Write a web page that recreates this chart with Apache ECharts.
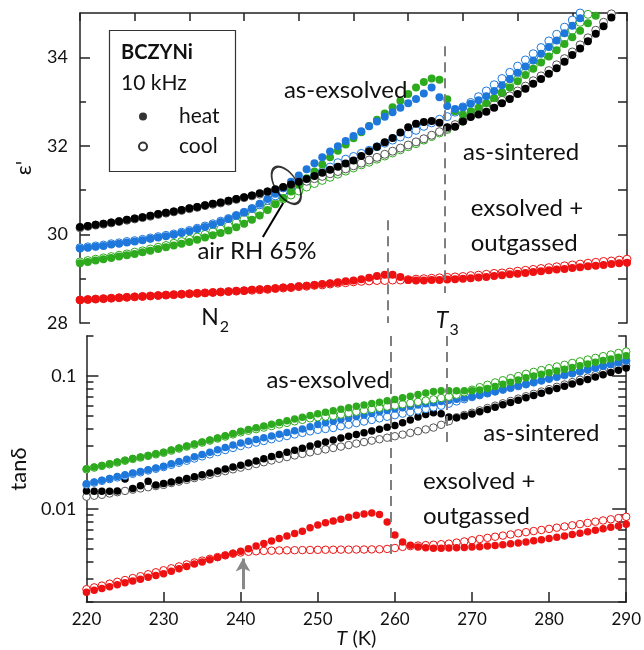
<!DOCTYPE html>
<html><head><meta charset="utf-8">
<script src="https://cdn.jsdelivr.net/npm/echarts@6/dist/echarts.min.js"></script>
<style>html,body{margin:0;padding:0;background:#fff}#c{width:644px;height:650px}</style>
</head><body><div id="c"></div>
<script>
const temps = [
 220,221,222,223,224,225,226,227,228,229,
 230,231,232,233,234,235,236,237,238,239,
 240,241,242,243,244,245,246,247,248,249,
 250,251,252,253,254,255,256,257,258,259,
 260,261,262,263,264,265,266,267,268,269,
 270,271,272,273,274,275,276,277,278,279,
 280,281,282,283,284,285,286,287,288,289,
 290];

// epsilon' (top panel)
const epsBlackHeat = [
 30.17,30.19,30.22,30.24,30.27,30.30,30.33,30.36,30.39,30.42,
 30.46,30.49,30.52,30.55,30.59,30.62,30.66,30.69,30.72,30.76,
 30.80,30.84,30.88,30.93,30.97,31.02,31.07,31.13,31.19,31.25,
 31.32,31.39,31.46,31.53,31.60,31.67,31.77,31.88,31.98,32.08,
 32.18,32.30,32.42,32.50,32.54,32.56,32.52,32.42,32.43,32.55,
 32.65,32.71,32.77,32.86,32.96,33.06,33.17,33.29,33.40,33.51,
 33.63,33.75,33.90,34.05,34.20,34.36,34.53,34.70,34.90,35.10,
 35.30];
const epsBlackCool = [
 30.15,30.18,30.21,30.23,30.26,30.29,30.32,30.35,30.38,30.41,
 30.45,30.48,30.51,30.54,30.58,30.61,30.65,30.68,30.71,30.75,
 30.79,30.83,30.87,30.91,30.96,31.00,31.05,31.10,31.15,31.20,
 31.26,31.31,31.37,31.42,31.48,31.55,31.61,31.68,31.74,31.81,
 31.88,31.95,32.02,32.09,32.16,32.24,32.32,32.40,32.48,32.57,
 32.67,32.76,32.84,32.93,33.03,33.13,33.24,33.35,33.47,33.58,
 33.70,33.83,33.97,34.12,34.28,34.44,34.61,34.79,34.98,35.18,
 35.40];
const epsBlueHeat = [
 29.68,29.70,29.72,29.74,29.77,29.79,29.82,29.84,29.87,29.90,
 29.93,29.96,29.99,30.03,30.07,30.12,30.17,30.22,30.28,30.35,
 30.42,30.50,30.59,30.69,30.80,30.92,31.05,31.19,31.33,31.47,
 31.61,31.74,31.87,31.99,32.11,32.22,32.33,32.44,32.55,32.66,
 32.76,32.86,32.96,33.06,33.18,33.32,33.10,32.90,32.83,32.87,
 32.95,33.03,33.12,33.24,33.37,33.51,33.65,33.79,33.93,34.08,
 34.23,34.38,34.54,34.71,34.88,35.05,35.22,35.40,35.60,35.80,
 36.00];
const epsBlueCool = [
 29.70,29.72,29.74,29.76,29.79,29.81,29.84,29.86,29.89,29.92,
 29.95,29.98,30.01,30.05,30.09,30.14,30.19,30.24,30.30,30.36,
 30.43,30.50,30.58,30.67,30.77,30.87,30.97,31.06,31.15,31.24,
 31.33,31.42,31.52,31.62,31.70,31.76,31.83,31.90,31.98,32.06,
 32.13,32.20,32.27,32.35,32.44,32.52,32.60,32.66,32.76,32.88,
 32.98,33.11,33.24,33.38,33.52,33.66,33.80,33.94,34.08,34.22,
 34.37,34.52,34.68,34.84,35.00,35.17,35.34,35.50,35.70,35.90,
 36.10];
const epsGreenHeat = [
 29.35,29.38,29.41,29.44,29.47,29.50,29.53,29.56,29.60,29.63,
 29.67,29.71,29.75,29.79,29.83,29.88,29.93,29.98,30.03,30.09,
 30.16,30.24,30.33,30.43,30.55,30.68,30.82,30.97,31.12,31.27,
 31.42,31.58,31.74,31.89,32.03,32.17,32.31,32.45,32.59,32.73,
 32.87,33.02,33.17,33.32,33.44,33.52,33.49,33.05,32.78,32.71,
 32.78,32.86,32.96,33.08,33.20,33.32,33.46,33.60,33.74,33.88,
 34.02,34.16,34.30,34.45,34.60,34.77,34.94,35.10,35.30,35.50,
 35.70];
const epsGreenCool = [
 29.38,29.41,29.44,29.47,29.50,29.53,29.56,29.60,29.63,29.67,
 29.71,29.75,29.80,29.84,29.89,29.94,30.00,30.06,30.12,30.19,
 30.26,30.34,30.42,30.51,30.60,30.70,30.80,30.89,30.98,31.07,
 31.15,31.22,31.29,31.36,31.43,31.50,31.57,31.63,31.70,31.77,
 31.84,31.91,31.98,32.05,32.13,32.21,32.29,32.37,32.46,32.56,
 32.68,32.80,32.93,33.06,33.20,33.35,33.50,33.66,33.81,33.96,
 34.11,34.27,34.44,34.61,34.79,34.97,35.15,35.35,35.55,35.75,
 35.95];
const epsRedHeat = [
 28.52,28.53,28.54,28.55,28.56,28.57,28.58,28.59,28.60,28.61,
 28.62,28.63,28.64,28.65,28.66,28.67,28.68,28.69,28.70,28.71,
 28.72,28.73,28.75,28.76,28.77,28.78,28.80,28.81,28.83,28.84,
 28.86,28.88,28.90,28.92,28.94,28.96,28.99,29.02,29.06,29.09,
 29.09,29.04,28.97,28.96,28.96,28.97,28.97,28.98,28.99,29.00,
 29.01,29.03,29.04,29.06,29.08,29.10,29.11,29.13,29.15,29.17,
 29.19,29.21,29.22,29.24,29.26,29.28,29.29,29.31,29.33,29.35,
 29.36];
const epsRedCool = [
 28.52,28.53,28.54,28.55,28.56,28.57,28.58,28.59,28.60,28.61,
 28.62,28.63,28.64,28.65,28.66,28.67,28.68,28.69,28.70,28.71,
 28.72,28.73,28.74,28.75,28.76,28.78,28.79,28.80,28.82,28.83,
 28.85,28.86,28.88,28.90,28.91,28.93,28.94,28.95,28.96,28.96,
 28.97,28.97,28.98,28.99,29.00,29.01,29.02,29.03,29.04,29.05,
 29.07,29.08,29.10,29.12,29.13,29.15,29.17,29.19,29.21,29.23,
 29.25,29.27,29.29,29.31,29.33,29.35,29.37,29.39,29.40,29.42,
 29.44];

// tan delta (bottom panel)
const tanBlackHeat = [
 0.0137,0.0136,0.0136,0.0136,0.0137,0.0168,0.0143,0.0150,0.0162,0.0152,
 0.0156,0.0160,0.0165,0.0170,0.0175,0.0181,0.0187,0.0193,0.0200,0.0207,
 0.0214,0.0222,0.0230,0.0239,0.0248,0.0257,0.0267,0.0277,0.0287,0.0298,
 0.0309,0.0320,0.0331,0.0342,0.0353,0.0364,0.0375,0.0387,0.0399,0.0412,
 0.0425,0.0445,0.0468,0.0492,0.0515,0.0530,0.0520,0.0492,0.0485,0.0500,
 0.0518,0.0539,0.0561,0.0584,0.0608,0.0633,0.0659,0.0686,0.0714,0.0744,
 0.0775,0.0806,0.0839,0.0873,0.0908,0.0944,0.0982,0.1022,0.1063,0.1106,
 0.1150];
const tanBlackCool = [
 0.0124,0.0126,0.0128,0.0131,0.0134,0.0137,0.0140,0.0143,0.0146,0.0149,
 0.0152,0.0157,0.0161,0.0166,0.0171,0.0176,0.0181,0.0187,0.0193,0.0199,
 0.0205,0.0211,0.0218,0.0225,0.0232,0.0239,0.0246,0.0253,0.0260,0.0267,
 0.0274,0.0281,0.0288,0.0295,0.0303,0.0311,0.0319,0.0327,0.0335,0.0344,
 0.0353,0.0363,0.0374,0.0385,0.0397,0.0410,0.0430,0.0458,0.0490,0.0510,
 0.0530,0.0552,0.0575,0.0599,0.0624,0.0650,0.0677,0.0705,0.0734,0.0765,
 0.0797,0.0830,0.0864,0.0900,0.0937,0.0976,0.1016,0.1058,0.1102,0.1148,
 0.1195];
const tanBlueHeat = [
 0.0155,0.0160,0.0165,0.0170,0.0176,0.0181,0.0187,0.0192,0.0198,0.0204,
 0.0210,0.0219,0.0228,0.0237,0.0247,0.0257,0.0268,0.0279,0.0291,0.0303,
 0.0314,0.0324,0.0334,0.0344,0.0354,0.0365,0.0376,0.0388,0.0400,0.0416,
 0.0432,0.0445,0.0458,0.0471,0.0484,0.0497,0.0510,0.0524,0.0538,0.0552,
 0.0566,0.0579,0.0592,0.0605,0.0618,0.0631,0.0644,0.0657,0.0670,0.0684,
 0.0698,0.0720,0.0743,0.0767,0.0791,0.0816,0.0842,0.0869,0.0897,0.0926,
 0.0955,0.0986,0.1017,0.1050,0.1083,0.1118,0.1154,0.1191,0.1229,0.1268,
 0.1309];
const tanBlueCool = [
 0.0153,0.0158,0.0163,0.0168,0.0173,0.0178,0.0184,0.0189,0.0195,0.0201,
 0.0207,0.0215,0.0223,0.0231,0.0240,0.0249,0.0258,0.0268,0.0278,0.0288,
 0.0298,0.0307,0.0316,0.0325,0.0335,0.0344,0.0354,0.0364,0.0374,0.0384,
 0.0394,0.0400,0.0407,0.0419,0.0431,0.0443,0.0455,0.0468,0.0481,0.0494,
 0.0508,0.0522,0.0536,0.0551,0.0566,0.0582,0.0598,0.0620,0.0645,0.0670,
 0.0695,0.0718,0.0741,0.0765,0.0789,0.0814,0.0840,0.0867,0.0895,0.0924,
 0.0953,0.0984,0.1015,0.1048,0.1081,0.1116,0.1152,0.1189,0.1227,0.1266,
 0.1306];
const tanGreenHeat = [
 0.0201,0.0207,0.0213,0.0219,0.0226,0.0233,0.0240,0.0246,0.0253,0.0261,
 0.0268,0.0278,0.0288,0.0298,0.0308,0.0319,0.0331,0.0343,0.0356,0.0370,
 0.0384,0.0396,0.0408,0.0421,0.0434,0.0448,0.0462,0.0476,0.0490,0.0505,
 0.0520,0.0534,0.0549,0.0563,0.0577,0.0592,0.0606,0.0621,0.0636,0.0651,
 0.0667,0.0686,0.0706,0.0726,0.0746,0.0765,0.0775,0.0776,0.0774,0.0774,
 0.0777,0.0785,0.0805,0.0835,0.0868,0.0900,0.0935,0.0970,0.1000,0.1030,
 0.1060,0.1090,0.1125,0.1160,0.1195,0.1230,0.1270,0.1310,0.1345,0.1385,
 0.1420];
const tanGreenCool = [
 0.0199,0.0205,0.0211,0.0217,0.0224,0.0231,0.0238,0.0244,0.0251,0.0258,
 0.0265,0.0275,0.0285,0.0295,0.0305,0.0316,0.0327,0.0339,0.0351,0.0364,
 0.0377,0.0388,0.0399,0.0410,0.0421,0.0433,0.0445,0.0457,0.0469,0.0481,
 0.0490,0.0496,0.0502,0.0514,0.0527,0.0540,0.0553,0.0566,0.0578,0.0590,
 0.0601,0.0614,0.0627,0.0640,0.0654,0.0668,0.0684,0.0700,0.0725,0.0755,
 0.0790,0.0825,0.0860,0.0895,0.0930,0.0965,0.1000,0.1040,0.1075,0.1110,
 0.1145,0.1180,0.1215,0.1255,0.1290,0.1330,0.1370,0.1410,0.1450,0.1490,
 0.1530];
const tanRedHeat = [
 0.00237,0.00245,0.00253,0.00261,0.00270,0.00279,0.00288,0.00297,0.00307,0.00317,
 0.00327,0.00341,0.00356,0.00371,0.00386,0.00401,0.00417,0.00433,0.00449,0.00466,
 0.00482,0.00504,0.00527,0.00551,0.00576,0.00602,0.00628,0.00655,0.00683,0.00725,
 0.00760,0.00790,0.00815,0.00840,0.00870,0.00898,0.00920,0.00935,0.00910,0.00800,
 0.00640,0.00565,0.00535,0.00520,0.00512,0.00508,0.00508,0.00510,0.00512,0.00515,
 0.00518,0.00522,0.00527,0.00533,0.00540,0.00548,0.00557,0.00567,0.00578,0.00589,
 0.00600,0.00614,0.00628,0.00643,0.00659,0.00676,0.00693,0.00711,0.00729,0.00748,
 0.00768];
const tanRedCool = [
 0.00250,0.00258,0.00266,0.00275,0.00284,0.00293,0.00303,0.00313,0.00324,0.00335,
 0.00347,0.00359,0.00371,0.00384,0.00397,0.00410,0.00423,0.00436,0.00449,0.00462,
 0.00472,0.00478,0.00482,0.00485,0.00487,0.00489,0.00490,0.00491,0.00492,0.00493,
 0.00494,0.00495,0.00495,0.00496,0.00496,0.00497,0.00497,0.00498,0.00499,0.00502,
 0.00510,0.00520,0.00527,0.00532,0.00536,0.00540,0.00545,0.00550,0.00560,0.00571,
 0.00583,0.00596,0.00608,0.00620,0.00632,0.00645,0.00658,0.00671,0.00684,0.00697,
 0.00710,0.00725,0.00740,0.00755,0.00771,0.00787,0.00804,0.00821,0.00838,0.00856,
 0.00875];

// tick values
const epsMajorTicks = [28, 30, 32, 34];
const epsMinorTicks = [29, 31, 33];
const epsRightTicks = [28, 29, 30, 31, 32, 33, 34, 35];
const tanMajorTicks = [0.01, 0.1];
const tanMinorTicks = [0.002,0.003,0.004,0.005,0.006,0.007,0.008,0.009,
                       0.02,0.03,0.04,0.05,0.06,0.07,0.08,0.09,0.2];

const COL = {black:'#000000', blackOpen:'#555555', blue:'#1e78dc', green:'#2eaa1e', red:'#ee1111'};
const FONT = 'Lato';

function pairs(vals){ return vals.map((v,i)=>[temps[i], v]); }

function filled(name, vals, color, gi){
  return {type:'scatter', name:name, xAxisIndex: gi===0?0:2, yAxisIndex: gi===0?0:3,
    data: pairs(vals), symbol:'circle', symbolSize: gi===0?8:7.5, silent:true,
    itemStyle:{color:color, opacity:1}};
}
function open(name, vals, color, gi){
  return {type:'scatter', name:name, xAxisIndex: gi===0?0:2, yAxisIndex: gi===0?0:3,
    data: pairs(vals), symbol:'circle', symbolSize: gi===0?8:7.5, silent:true,
    itemStyle:{color:'#ffffff', borderColor:color, borderWidth:1, opacity:1}};
}

const dash = {type:[10,6], color:'#7f7f7f', width:2};
const annoLabel = (size)=>({show:true, position:'inside', fontFamily:FONT, fontSize:size, color:'#111', formatter:'{b}'});

const series = [
  open('red cool e', epsRedCool, COL.red, 0),
  filled('red heat e', epsRedHeat, COL.red, 0),
  open('green cool e', epsGreenCool, COL.green, 0),
  open('blue cool e', epsBlueCool, COL.blue, 0),
  open('black cool e', epsBlackCool, COL.blackOpen, 0),
  filled('green heat e', epsGreenHeat, COL.green, 0),
  filled('blue heat e', epsBlueHeat, COL.blue, 0),
  filled('black heat e', epsBlackHeat, COL.black, 0),

  open('red cool t', tanRedCool, COL.red, 1),
  filled('red heat t', tanRedHeat, COL.red, 1),
  open('black cool t', tanBlackCool, COL.blackOpen, 1),
  filled('black heat t', tanBlackHeat, COL.black, 1),
  open('blue cool t', tanBlueCool, COL.blue, 1),
  filled('blue heat t', tanBlueHeat, COL.blue, 1),
  open('green cool t', tanGreenCool, COL.green, 1),
  filled('green heat t', tanGreenHeat, COL.green, 1),

  // legend entries
  {type:'scatter', name:'heat', xAxisIndex:0, yAxisIndex:0, data:[], symbol:'circle',
   itemStyle:{color:'#000'}},
  {type:'scatter', name:'cool', xAxisIndex:0, yAxisIndex:0, data:[], symbol:'circle',
   itemStyle:{color:'#fff', borderColor:'#000', borderWidth:1}},

  // ellipse marking the crossing (air RH 65%)
  {type:'scatter', name:'crossing', xAxisIndex:0, yAxisIndex:0, silent:true, z:5,
   data:[[246.4, 31.11]], symbol:'circle', symbolSize:[22,42], symbolRotate:33,
   itemStyle:{color:'rgba(0,0,0,0)', borderColor:'#000', borderWidth:2},
   markLine:{silent:true, symbol:'none', label:{show:false}, animation:false,
     lineStyle:{type:'solid', color:'#000', width:2},
     data:[[{coord:[246.0, 30.71]},{coord:[243.4, 29.94]}]]}
  },

  // top panel annotations + dashed lines
  {type:'scatter', name:'annoTop', xAxisIndex:0, yAxisIndex:0, data:[], silent:true, z:6,
   markLine:{silent:true, symbol:'none', label:{show:false}, animation:false, lineStyle:dash,
     data:[[{coord:[266.7, 34.25]},{coord:[266.7, 28.68]}],
           [{coord:[259.4, 30.32]},{coord:[259.4, 28.0]}]]},
   markPoint:{silent:true, symbol:'circle', symbolSize:0, animation:false,
     label: annoLabel(24),
     data:[
       {name:'as-exsolved', coord:[254.0, 33.26]},
       {name:'as-sintered', coord:[276.45, 31.86]},
       {name:'exsolved +', coord:[270.0, 30.59], label:{align:'left'}},
       {name:'outgassed', coord:[270.0, 29.80], label:{align:'left'}},
       {name:'air RH 65%', coord:[242.65, 29.62]},
       {name:'N2', coord:[237.3, 28.13], label:{formatter:'{n|N}{s|2}',
          rich:{n:{fontFamily:FONT, fontSize:23, color:'#111'},
                s:{fontFamily:FONT, fontSize:16, color:'#111', padding:[19,0,0,1]}}}},
       {name:'T3', coord:[267.0, 28.06], label:{formatter:'{t|T}{s|3}',
          rich:{t:{fontFamily:FONT, fontSize:23, fontStyle:'italic', color:'#111'},
                s:{fontFamily:FONT, fontSize:16, color:'#111', padding:[19,0,0,1]}}}}
     ]}
  },

  // bottom panel annotations + dashed lines
  {type:'scatter', name:'annoBottom', xAxisIndex:2, yAxisIndex:3, data:[], silent:true, z:6,
   markLine:{silent:true, symbol:'none', label:{show:false}, animation:false, lineStyle:dash,
     data:[[{coord:[266.7, 0.2]},{coord:[266.7, 0.029]}],
           [{coord:[259.4, 0.2]},{coord:[259.4, 0.0043]}]]},
   markPoint:{silent:true, symbol:'circle', symbolSize:0, animation:false,
     label: annoLabel(24),
     data:[
       {name:'as-exsolved', coord:[251.35, 0.0925]},
       {name:'as-sintered', coord:[279.0, 0.0371]},
       {name:'exsolved +', coord:[263.64, 0.0162], label:{align:'left'}},
       {name:'outgassed', coord:[263.64, 0.0089], label:{align:'left'}}
     ]}
  },
  // arrow at 240 K
  {type:'scatter', name:'arrow', xAxisIndex:2, yAxisIndex:3, data:[], silent:true, z:6,
   markLine:{silent:true, symbol:['none','arrow'], symbolSize:[11,13], label:{show:false}, animation:false,
     lineStyle:{type:'solid', color:'#888888', width:3},
     data:[[{coord:[240.3, 0.00250]},{coord:[240.3, 0.00425]}]]}
  }
];

const axisLine = {show:true, lineStyle:{color:'#222', width:1.5}};
const tickStyle = {color:'#222', width:1.5};

const option = {
  animation:false,
  backgroundColor:'#ffffff',
  textStyle:{fontFamily:FONT},
  grid:[
    {left:80, top:13, width:547, height:310},
    {left:80, top:336, width:547, height:277}
  ],
  xAxis:[
    {gridIndex:0, type:'value', min:220, max:290, show:false},
    {gridIndex:0, type:'value', position:'top', min:0, max:10, interval:1,
     axisLine:axisLine, axisTick:{show:true, inside:true, length:8, lineStyle:tickStyle},
     axisLabel:{show:false}, splitLine:{show:false}},
    {gridIndex:1, type:'value', position:'bottom', min:220, max:290, interval:10,
     axisLine:axisLine, axisTick:{show:true, inside:true, length:10, lineStyle:tickStyle},
     axisLabel:{show:true, fontFamily:FONT, fontSize:17, color:'#111', margin:9},
     splitLine:{show:false},
     name:'{i|T} (K)', nameLocation:'middle', nameGap:17,
     nameTextStyle:{fontFamily:FONT, fontSize:20, color:'#111',
       rich:{i:{fontFamily:FONT, fontSize:20, fontStyle:'italic', color:'#111'}}}}
  ],
  yAxis:[
    {gridIndex:0, type:'value', position:'left', min:28, max:35,
     axisLine:axisLine,
     axisTick:{show:true, inside:true, length:10, lineStyle:tickStyle, customValues:epsMajorTicks},
     axisLabel:{show:true, fontFamily:FONT, fontSize:18, color:'#111', margin:12, customValues:epsMajorTicks},
     splitLine:{show:false},
     name:"ε'", nameLocation:'middle', nameGap:45,
     nameTextStyle:{fontFamily:FONT, fontSize:22, color:'#111'}},
    {gridIndex:0, type:'value', position:'left', min:28, max:35,
     axisLine:{show:false},
     axisTick:{show:true, inside:true, length:6, lineStyle:tickStyle, customValues:epsMinorTicks},
     axisLabel:{show:false}, splitLine:{show:false}},
    {gridIndex:0, type:'value', position:'right', min:28, max:35,
     axisLine:axisLine,
     axisTick:{show:true, inside:true, length:9, lineStyle:tickStyle, customValues:epsRightTicks},
     axisLabel:{show:false}, splitLine:{show:false}},
    {gridIndex:1, type:'log', logBase:10, position:'left', min:0.002, max:0.2,
     axisLine:axisLine,
     axisTick:{show:true, inside:true, length:12, lineStyle:tickStyle, customValues:tanMajorTicks},
     axisLabel:{show:true, fontFamily:FONT, fontSize:18, color:'#111', margin:10, customValues:tanMajorTicks,
       formatter:(v)=> (Math.abs(v-0.1)<1e-9?'0.1':(Math.abs(v-0.01)<1e-9?'0.01':String(v)))},
     splitLine:{show:false},
     name:'tanδ', nameLocation:'middle', nameGap:45,
     nameTextStyle:{fontFamily:FONT, fontSize:22, color:'#111'}},
    {gridIndex:1, type:'log', logBase:10, position:'left', min:0.002, max:0.2,
     axisLine:{show:false},
     axisTick:{show:true, inside:true, length:7, lineStyle:tickStyle, customValues:tanMinorTicks},
     axisLabel:{show:false}, splitLine:{show:false}},
    {gridIndex:1, type:'log', logBase:10, position:'right', min:0.002, max:0.2,
     axisLine:axisLine,
     axisTick:{show:true, inside:true, length:14, lineStyle:tickStyle, customValues:tanMajorTicks},
     axisLabel:{show:false}, splitLine:{show:false}},
    {gridIndex:1, type:'log', logBase:10, position:'right', min:0.002, max:0.2,
     axisLine:{show:false},
     axisTick:{show:true, inside:true, length:8, lineStyle:tickStyle, customValues:tanMinorTicks},
     axisLabel:{show:false}, splitLine:{show:false}}
  ],
  legend:{
    data:['heat','cool'], orient:'vertical', left:133, top:101,
    itemWidth:52, itemHeight:8, itemGap:9, icon:'circle', selectedMode:false,
    textStyle:{fontFamily:FONT, fontSize:21, color:'#111', padding:[0,0,0,5]}
  },
  graphic:[
    {type:'rect', left:107, top:28, shape:{width:126, height:141}, silent:true,
     style:{fill:'none', stroke:'#333', lineWidth:1.2}, z:10},
    {type:'text', left:121, top:43, silent:true, z:10,
     style:{text:'BCZYNi', fontFamily:FONT, fontSize:20, fontWeight:'bold', fill:'#111'}},
    {type:'text', left:121, top:73, silent:true, z:10,
     style:{text:'10 kHz', fontFamily:FONT, fontSize:21, fill:'#111'}}
  ],
  series: series
};

const chart = echarts.init(document.getElementById('c'), null, {renderer:'canvas'});
chart.setOption(option);
</script>
</body></html>
